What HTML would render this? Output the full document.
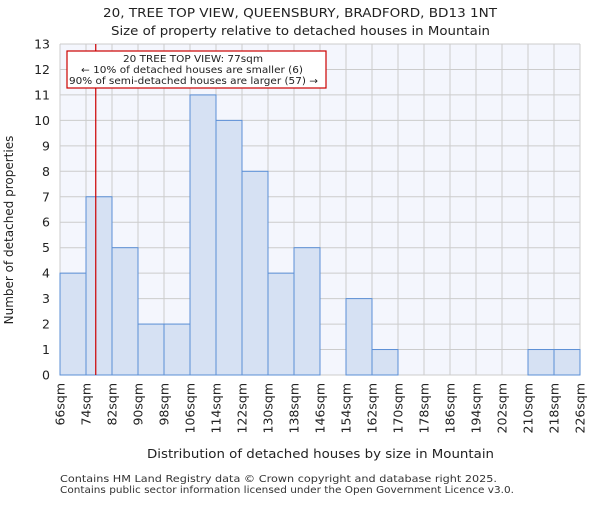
<!DOCTYPE html>
<html><head><meta charset="utf-8"><style>body{margin:0;background:#fff}svg{font-family:"DejaVu Sans","Liberation Sans",sans-serif}</style></head>
<body>
<svg id="c" width="600" height="500">
<text x="103" y="17" textLength="394" lengthAdjust="spacingAndGlyphs" font-size="12.5" fill="#222">20, TREE TOP VIEW, QUEENSBURY, BRADFORD, BD13 1NT</text>
<text x="111" y="35" textLength="379" lengthAdjust="spacingAndGlyphs" font-size="12.5" fill="#222">Size of property relative to detached houses in Mountain</text>
<rect x="60" y="44" width="520" height="331" fill="#f4f6fd"/>
<g id="grid"></g><g id="bars"></g><g id="ticks"></g>
<line id="marker" stroke="#cc0000" stroke-width="1.2"/>
<rect x="67" y="51" width="259" height="37" fill="#fff" stroke="#cc0000" stroke-width="1.2"/>
<text x="123" y="62" textLength="140" lengthAdjust="spacingAndGlyphs" font-size="9.5" fill="#222">20 TREE TOP VIEW: 77sqm</text>
<text x="81" y="73" textLength="222" lengthAdjust="spacingAndGlyphs" font-size="9.5" fill="#222">← 10% of detached houses are smaller (6)</text>
<text x="69" y="84" textLength="249" lengthAdjust="spacingAndGlyphs" font-size="9.5" fill="#222">90% of semi-detached houses are larger (57) →</text>
<text transform="translate(13,230) rotate(-90)" text-anchor="middle" font-size="12" fill="#222">Number of detached properties</text>
<text x="147" y="458" textLength="347" lengthAdjust="spacingAndGlyphs" font-size="12" fill="#222">Distribution of detached houses by size in Mountain</text>
<text x="60" y="482" textLength="437" lengthAdjust="spacingAndGlyphs" font-size="10" fill="#333">Contains HM Land Registry data © Crown copyright and database right 2025.</text>
<text x="60" y="493" textLength="454" lengthAdjust="spacingAndGlyphs" font-size="10" fill="#333">Contains public sector information licensed under the Open Government Licence v3.0.</text>
</svg>
<script>
const binStarts=[66,74,82,90,98,106,114,122,130,138,146,154,162,170,178,186,194,202,210,218];
const counts=[4,7,5,2,2,11,10,8,4,5,0,3,1,0,0,0,0,0,1,1];
const xTickLabels=["66sqm","74sqm","82sqm","90sqm","98sqm","106sqm","114sqm","122sqm","130sqm","138sqm","146sqm","154sqm","162sqm","170sqm","178sqm","186sqm","194sqm","202sqm","210sqm","218sqm","226sqm"];
const yTicks=[0,1,2,3,4,5,6,7,8,9,10,11,12,13];
const propertySize=77;
const NS="http://www.w3.org/2000/svg";
const X=v=>60+(v-66)/(226-66)*520, Y=v=>375-v/13*331;
function mk(t,p,a){const e=document.createElementNS(NS,t);for(const k in a)e.setAttribute(k,a[k]);p.appendChild(e);return e;}
const g=document.getElementById('grid'),b=document.getElementById('bars'),tk=document.getElementById('ticks');
yTicks.forEach(v=>{const l=mk('line',g,{x1:60,x2:580,y1:Y(v),y2:Y(v),stroke:'#cccccc','stroke-width':1});


const t=mk('text',tk,{x:50,y:Y(v)+4.5,'text-anchor':'end','font-size':12.5,fill:'#222'});t.textContent=v;

});
xTickLabels.forEach((s,i)=>{const v=66+i*8;const l=mk('line',g,{x1:X(v),x2:X(v),y1:44,y2:375,stroke:'#cccccc','stroke-width':1});


const t=mk('text',tk,{transform:`translate(${X(v)+4.5},383) rotate(-90)`,'text-anchor':'end','font-size':12.5,fill:'#222'});t.textContent=s;

});
binStarts.forEach((s,i)=>{if(!counts[i])return;const r=mk('rect',b,{x:X(s),y:Y(counts[i]),width:X(s+8)-X(s),height:375-Y(counts[i]),fill:'#d6e1f3',stroke:'#5b8fd6','stroke-width':1});

});
const m=document.getElementById('marker');m.setAttribute('x1',X(propertySize));m.setAttribute('x2',X(propertySize));m.setAttribute('y1',44);m.setAttribute('y2',375);
</script>
</body></html>
